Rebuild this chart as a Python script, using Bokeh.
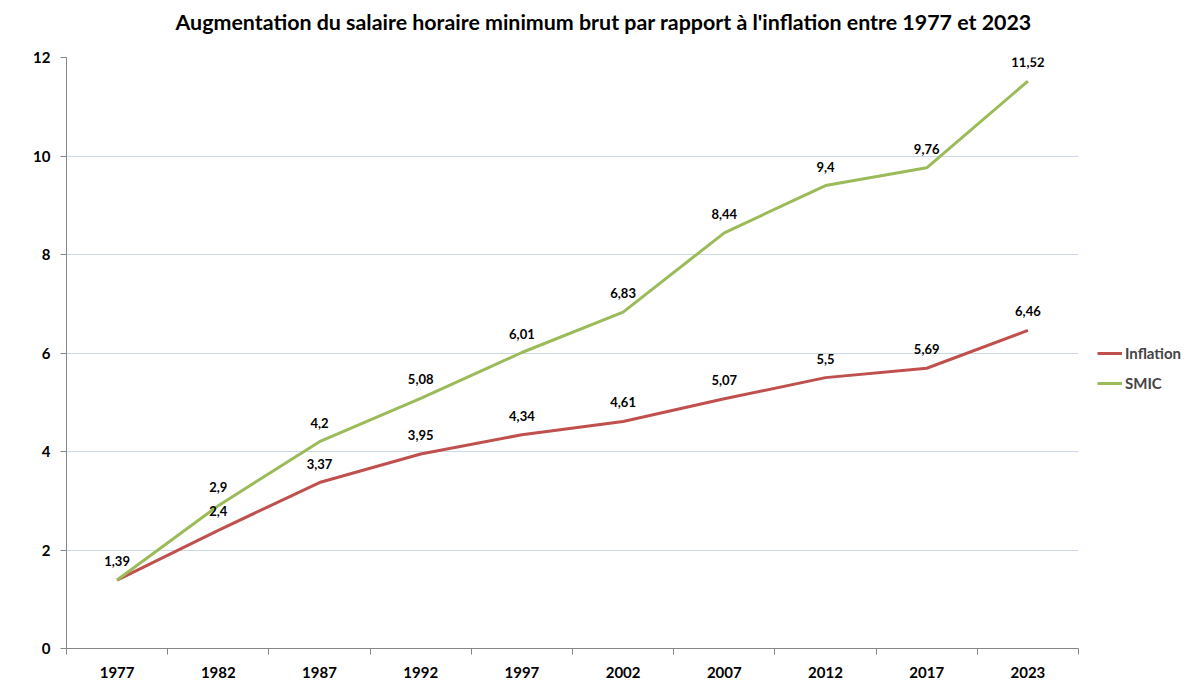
from bokeh.plotting import figure
from bokeh.models import Range1d, FixedTicker, ColumnDataSource, Legend, LegendItem, Title
from bokeh.core.properties import value
from bokeh.embed import file_html
from bokeh.resources import INLINE

years = ["1977", "1982", "1987", "1992", "1997", "2002", "2007", "2012", "2017", "2023"]
inflation = [1.39, 2.4, 3.37, 3.95, 4.34, 4.61, 5.07, 5.5, 5.69, 6.46]
smic = [1.39, 2.9, 4.2, 5.08, 6.01, 6.83, 8.44, 9.4, 9.76, 11.52]
y_ticks = [0, 2, 4, 6, 8, 10, 12]

FONT = "Lato"
RED = "#C0504D"
GREEN = "#9BBB59"

xs = [i + 0.5 for i in range(len(years))]

def fmt(v):
    return ("%g" % v).replace(".", ",")

p = figure(frame_width=1012, frame_height=591, output_backend="svg", toolbar_location=None,
           x_range=Range1d(0, len(years)), y_range=Range1d(0, 12),
           min_border_left=66, min_border_right=106, min_border_top=57, min_border_bottom=35,
           title="Augmentation du salaire horaire minimum brut par rapport à l'inflation entre 1977 et 2023")
p.outline_line_color = None
p.title.align = "left"
p.title.offset = 109
p.title.standoff = 10
p.title.vertical_align = "top"
p.title.text_font = FONT
p.title.text_font_size = "21.4px"
p.title.text_font_style = "bold"
p.title.text_color = "#000000"

# spacer between the title and the plot area
p.add_layout(Title(text=" ", text_font_size="12px", standoff=0), "above")

# axes
p.xaxis.ticker = FixedTicker(ticks=xs, minor_ticks=list(range(len(years) + 1)))
p.xaxis.major_label_overrides = {x: y for x, y in zip(xs, years)}
p.xaxis.major_tick_out = 0
p.xaxis.major_tick_in = 0
p.xaxis.minor_tick_out = 6
p.xaxis.minor_tick_in = 0
p.xaxis.minor_tick_line_color = "#868686"
p.yaxis.ticker = FixedTicker(ticks=y_ticks)
p.yaxis.minor_tick_line_color = None
p.yaxis.major_tick_out = 6
p.yaxis.major_tick_in = 0
for ax in (p.xaxis, p.yaxis):
    ax.axis_line_color = "#868686"
    ax.major_tick_line_color = "#868686"
    ax.major_label_text_font = FONT
    ax.major_label_text_font_style = "bold"
    ax.major_label_text_font_size = "15px"
    ax.major_label_text_color = "#000000"
p.xaxis.major_label_standoff = 12
p.yaxis.major_label_standoff = 10

p.xgrid.grid_line_color = None
p.ygrid.grid_line_color = "#C9D9EA"
p.ygrid.grid_line_width = 1

src = ColumnDataSource(dict(x=xs, inf=inflation, smic=smic,
                            smic_lbl=[fmt(v) for v in smic]))

r_inf = p.line("x", "inf", source=src, line_color=RED, line_width=3)
r_smic = p.line("x", "smic", source=src, line_color=GREEN, line_width=3)

inf_lbl_src = ColumnDataSource(dict(x=xs[1:], y=inflation[1:], t=[fmt(v) for v in inflation[1:]]))
p.text("x", "y", text="t", source=inf_lbl_src, text_font=value(FONT), text_font_style="bold",
       text_font_size="13px", text_align="center", text_baseline="bottom", y_offset=-14,
       text_color="#000000")
p.text("x", "smic", text="smic_lbl", source=src, text_font=value(FONT), text_font_style="bold",
       text_font_size="13px", text_align="center", text_baseline="bottom", y_offset=-14,
       text_color="#000000")

legend = Legend(items=[LegendItem(label="Inflation", renderers=[r_inf]),
                       LegendItem(label="SMIC", renderers=[r_smic])],
                location=(19, 255), orientation="vertical")
legend.border_line_color = None
legend.background_fill_alpha = 0
legend.label_text_font = FONT
legend.label_text_font_style = "bold"
legend.label_text_font_size = "15px"
legend.glyph_width = 25
legend.glyph_height = 20
legend.label_height = 20
legend.label_standoff = 3
legend.spacing = 10
legend.padding = 0
legend.margin = 0
p.add_layout(legend, "right")

open("out.html", "w").write(file_html(p, INLINE))
